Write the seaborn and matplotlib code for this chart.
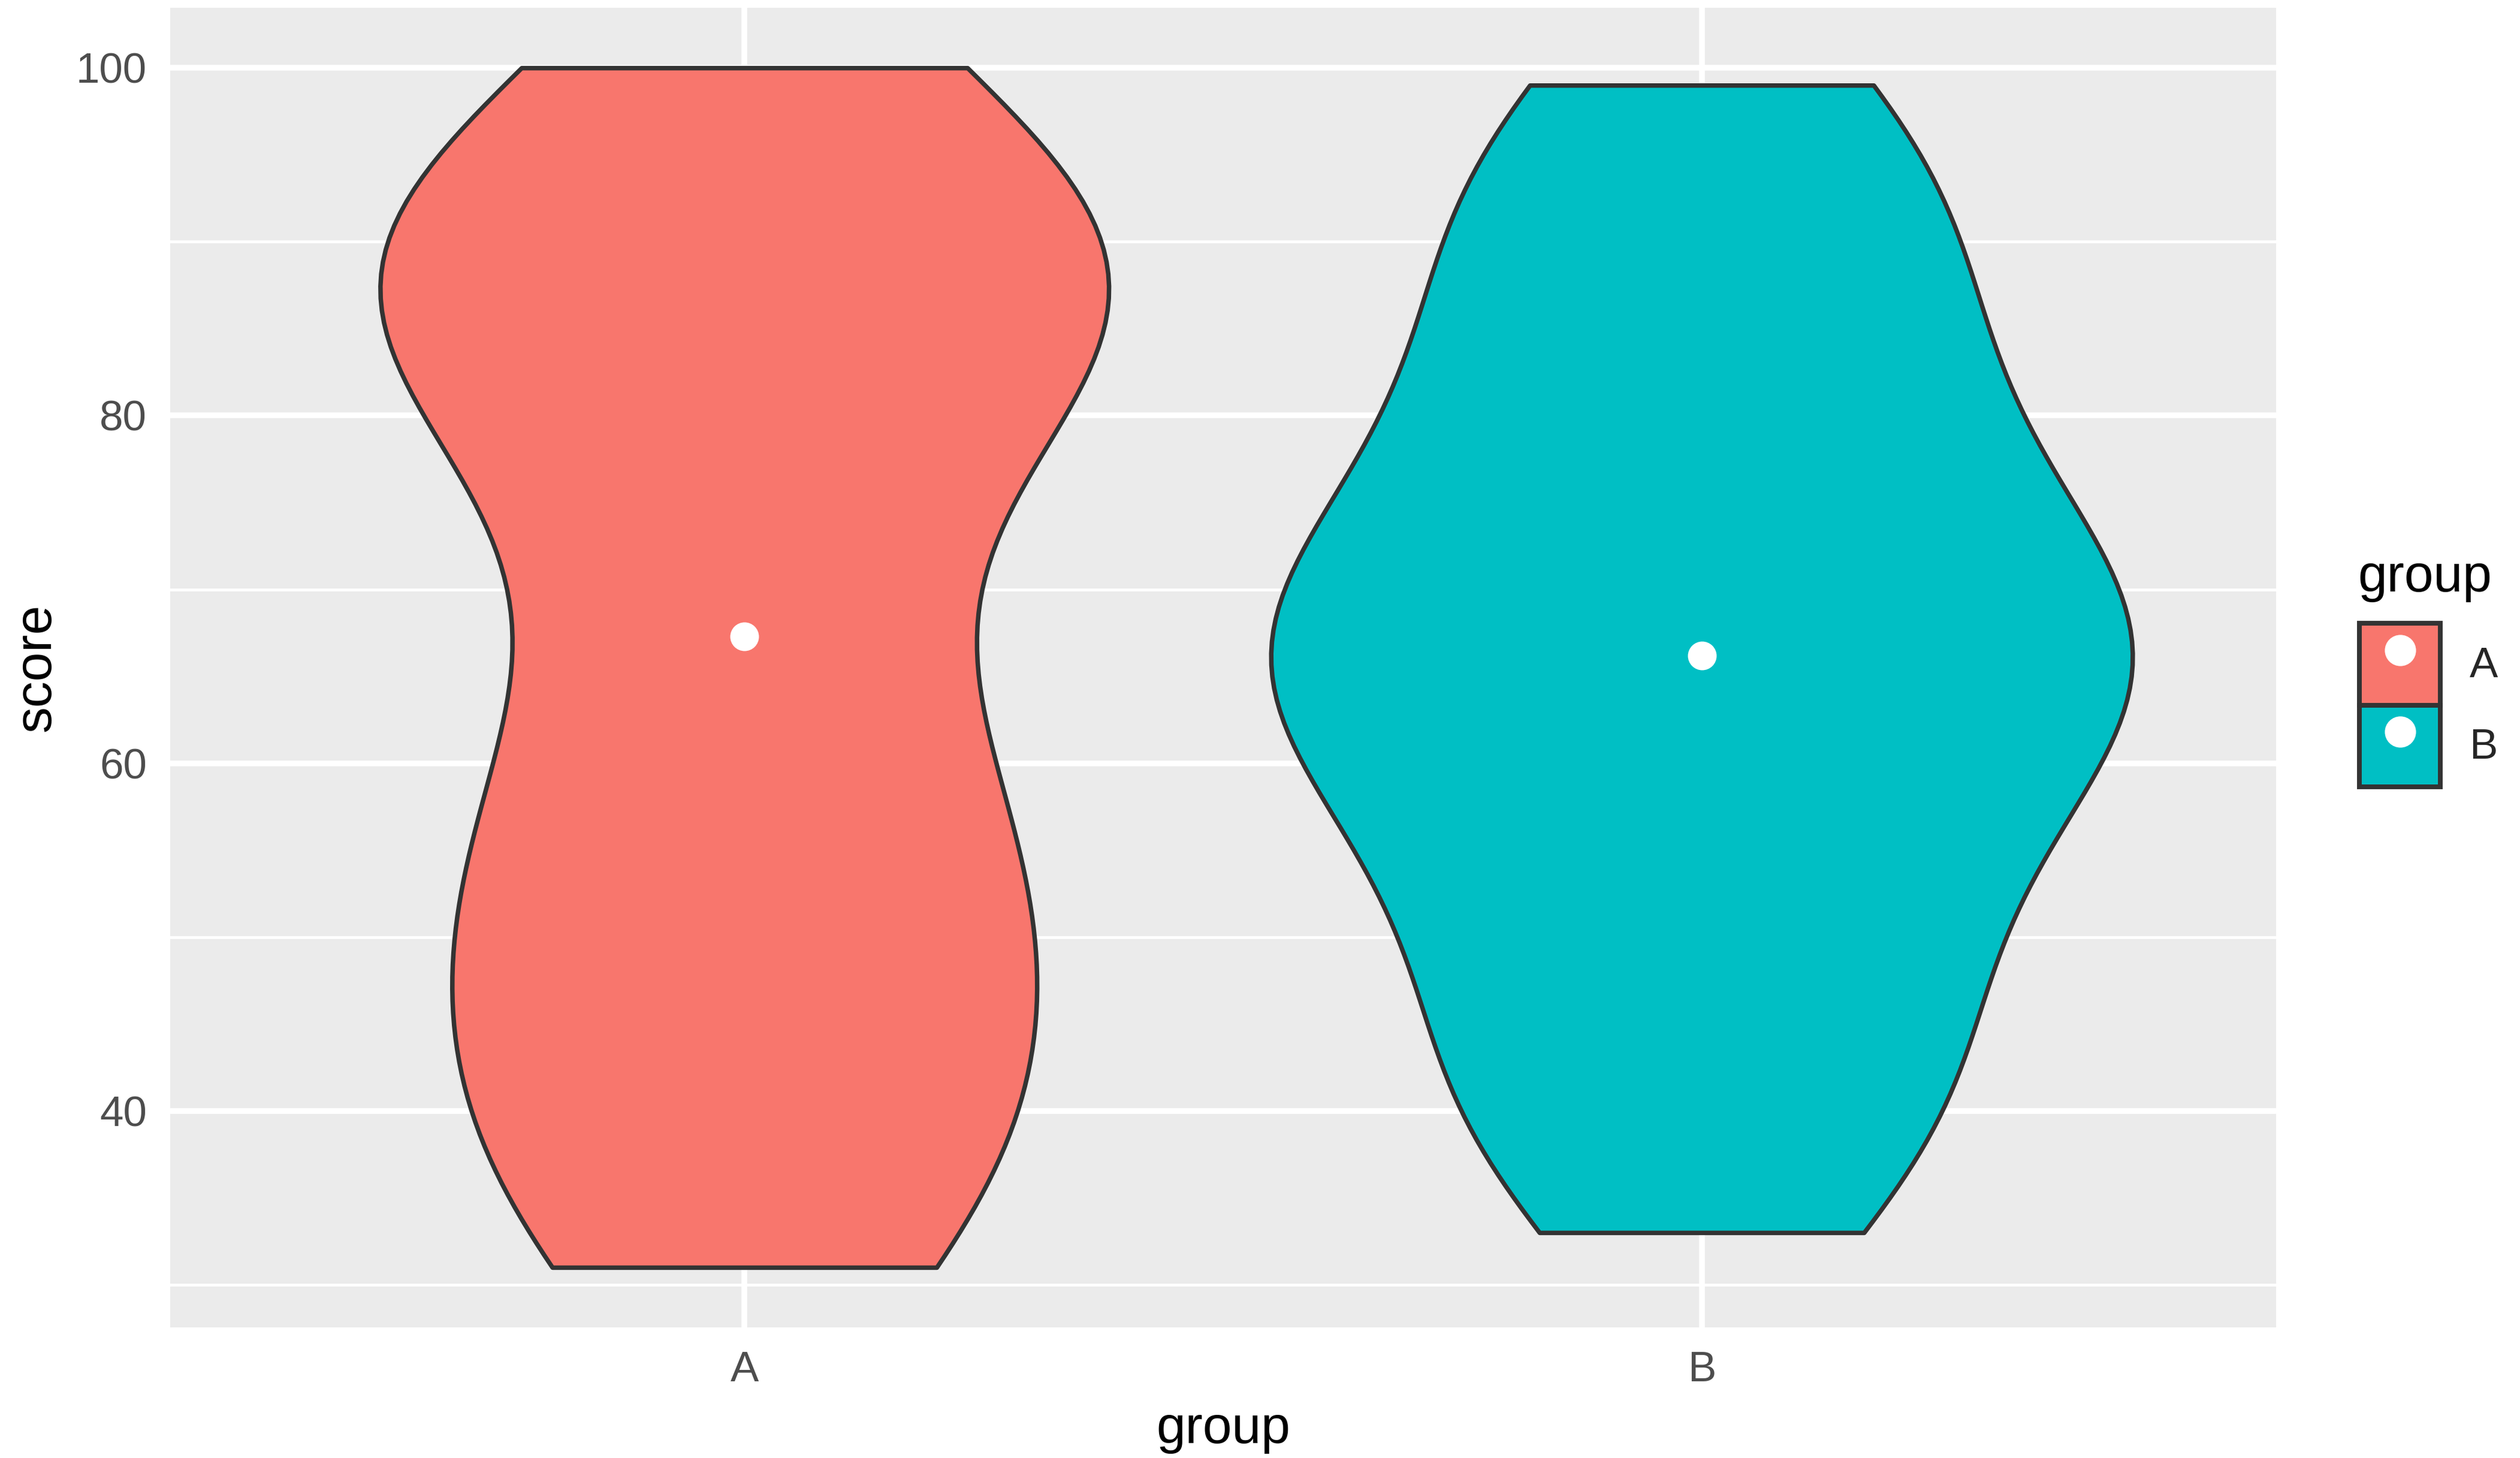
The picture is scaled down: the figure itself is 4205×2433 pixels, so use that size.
import numpy as np
import pandas as pd
import matplotlib.pyplot as plt
import seaborn as sns
from matplotlib.patches import Patch
from matplotlib.lines import Line2D
from matplotlib.legend_handler import HandlerTuple

# values
groups = ["A", "B"]
colors = ["#F8766D", "#00BFC4"]
score_a = [31, 32, 35, 39, 42, 45, 48, 51, 54, 57, 60, 64.6,
           70, 79, 82, 84, 86, 87, 88, 89, 91, 93, 97, 100]
score_b = [33, 37, 40, 43, 46, 50.5, 54, 57, 60, 62.5, 64.5, 66,
           66.4, 68, 70, 72.5, 75.5, 79, 82.5, 86, 89.5, 93, 96.5, 99]
y_ticks = [40, 60, 80, 100]
y_minor = [30, 50, 70, 90]

df = pd.DataFrame({
    "group": ["A"] * len(score_a) + ["B"] * len(score_b),
    "score": score_a + score_b,
})

sns.set_theme(style="white")
plt.rcParams["font.family"] = ["Liberation Sans", "DejaVu Sans"]

fig = plt.figure(figsize=(4205 / 300, 2433 / 300), dpi=300)
ax = fig.add_axes([0.0675, 0.0896, 0.8357, 0.905])
ax.set_facecolor("#EBEBEB")
ax.set_axisbelow(True)

sns.violinplot(data=df, x="group", y="score", hue="group", order=groups,
               hue_order=groups, palette=colors, cut=0, inner=None,
               density_norm="area", common_norm=True, width=0.9,
               saturation=1, linewidth=1.8, linecolor="#333333",
               bw_adjust=0.85, legend=False, ax=ax)

sns.pointplot(data=df, x="group", y="score", order=groups, estimator="median",
              errorbar=None, color="white", marker="o", markersize=11.5,
              markeredgewidth=0, linestyle="none", ax=ax)

lo, hi = df["score"].min(), df["score"].max()
pad = 0.05 * (hi - lo)
ax.set_ylim(lo - pad, hi + pad)
ax.set_xlim(-0.6, 1.6)

ax.set_yticks(y_ticks)
ax.set_yticks(y_minor, minor=True)
ax.set_xticks(range(len(groups)))
ax.set_xticklabels(groups)
ax.grid(which="major", color="white", lw=2.3)
ax.grid(which="minor", axis="y", color="white", lw=1.15)
ax.tick_params(which="major", length=5.3, width=2.2, color="#333333",
               labelsize=17, labelcolor="#4D4D4D", pad=4)
ax.tick_params(which="minor", length=0)
for s in ax.spines.values():
    s.set_visible(False)

ax.set_xlabel("group", fontsize=21, color="black", labelpad=6)
ax.set_ylabel("score", fontsize=21, color="black", labelpad=6)

# legend: title placed by hand, keys touch each other like ggplot's
fig.text(3934 / 4205, 1 - 987 / 2433, "group", fontsize=21, color="black",
         ha="left", va="baseline")
handles = [(Patch(facecolor=c, edgecolor="#333333", lw=1.9),
            Line2D([], [], marker="o", color="white", ls="none", markersize=11.5))
           for c in colors]
ax.legend(handles, groups, handler_map={tuple: HandlerTuple(ndivide=1, pad=0)},
          loc="upper left", bbox_to_anchor=(3937 / 4205, 1 - 1040 / 2433),
          bbox_transform=fig.transFigure, frameon=False, fontsize=17,
          handlelength=1.91, handleheight=2.59, handletextpad=0.68,
          labelspacing=0.0, borderpad=0, borderaxespad=0)

fig.savefig("out.png", dpi=300)
